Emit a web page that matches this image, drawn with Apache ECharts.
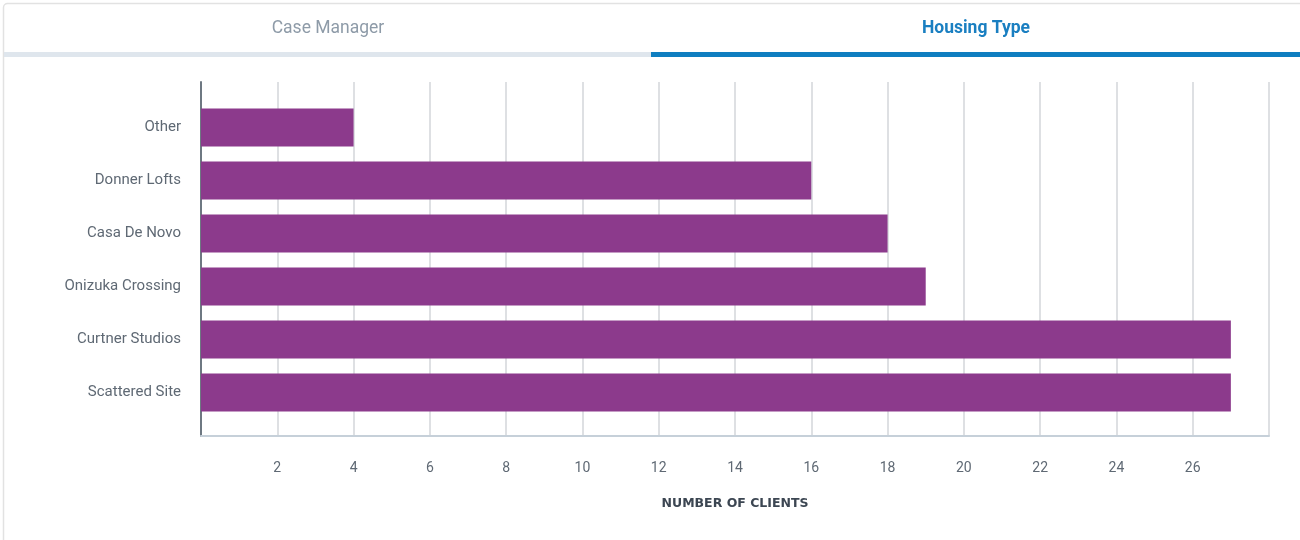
<!DOCTYPE html>
<html>
<head>
<meta charset="utf-8">
<script src="https://cdn.jsdelivr.net/npm/echarts@6/dist/echarts.min.js"></script>
<style>
html,body{margin:0;padding:0;background:#fff;}
#chart{width:1300px;height:540px;}
</style>
</head>
<body>
<div id="chart"></div>
<script>
const tabs = ["Case Manager", "Housing Type"];
const categories = ["Scattered Site", "Curtner Studios", "Onizuka Crossing", "Casa De Novo", "Donner Lofts", "Other"];
const clients = [27, 27, 19, 18, 16, 4];
const xTicks = [2, 4, 6, 8, 10, 12, 14, 16, 18, 20, 22, 24, 26];
const axisName = "NUMBER OF CLIENTS";

const font = "Roboto, 'Noto Sans', sans-serif";
const chart = echarts.init(document.getElementById('chart'), null, {renderer: 'canvas'});
chart.setOption({
  animation: false,
  backgroundColor: '#ffffff',
  graphic: [
    {type: 'rect', shape: {x: 3.5, y: 3.5, width: 1310, height: 560, r: 4}, style: {fill: '#fff', stroke: '#e2e2e2', lineWidth: 1.5}, z: -10},
    {type: 'rect', shape: {x: 4, y: 52, width: 647, height: 5}, style: {fill: '#dfe6ed'}},
    {type: 'rect', shape: {x: 651, y: 52, width: 649, height: 5}, style: {fill: '#0f7ec0'}},
    {type: 'text', x: 328, y: 29, style: {text: tabs[0], fill: '#8e9ba8', font: '400 17.5px ' + font, align: 'center', verticalAlign: 'middle'}},
    {type: 'text', x: 976, y: 29, style: {text: tabs[1], fill: '#1a7fc1', font: '700 17.5px ' + font, align: 'center', verticalAlign: 'middle'}}
  ],
  grid: [
    {left: 201, right: 31, top: 82, bottom: 104},
    {left: 201, right: 31, top: 101, bottom: 121}
  ],
  xAxis: [
    {
      type: 'value', gridIndex: 0, min: 0, max: 28, interval: 2,
      name: axisName, nameLocation: 'middle', nameGap: 61,
      nameTextStyle: {color: '#3c4652', fontSize: 12.5, fontWeight: 'bold', fontFamily: "'DejaVu Sans', sans-serif"},
      axisLine: {show: true, lineStyle: {color: '#c6d0d9', width: 2}},
      axisTick: {show: false},
      axisLabel: {color: '#5f6974', fontSize: 14, fontFamily: font, margin: 25,
        formatter: v => xTicks.indexOf(v) >= 0 ? String(v) : ''},
      splitLine: {show: true, lineStyle: {color: '#d3d6da', width: 1.5}}
    },
    {type: 'value', gridIndex: 1, min: 0, max: 28, show: false, splitLine: {show: false}}
  ],
  yAxis: [
    {
      type: 'category', gridIndex: 0, data: [''],
      axisLine: {show: true, lineStyle: {color: '#6e7882', width: 2}},
      axisTick: {show: false}, axisLabel: {show: false}, splitLine: {show: false}
    },
    {
      type: 'category', gridIndex: 1, data: categories,
      axisLine: {show: false}, axisTick: {show: false},
      axisLabel: {color: '#5f6974', fontSize: 15, fontFamily: font, margin: 20}
    }
  ],
  series: [{
    type: 'bar', xAxisIndex: 1, yAxisIndex: 1, data: clients,
    barWidth: 38, itemStyle: {color: '#8c3a8c'}
  }]
});
</script>
</body>
</html>
